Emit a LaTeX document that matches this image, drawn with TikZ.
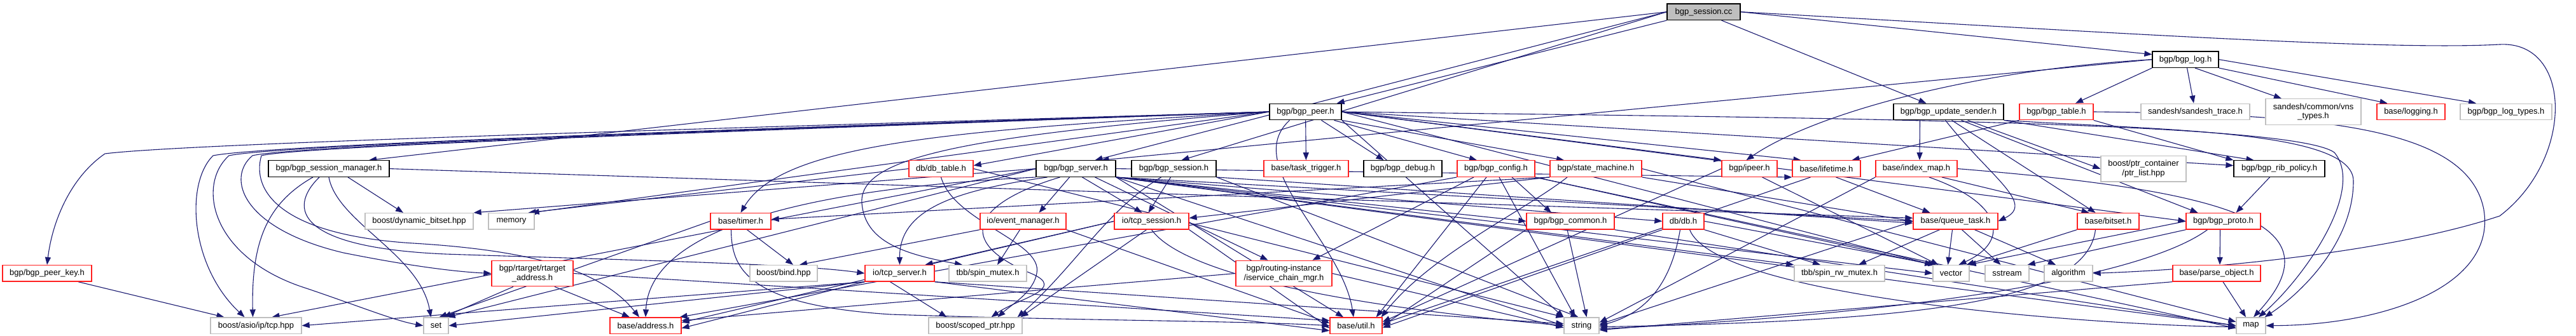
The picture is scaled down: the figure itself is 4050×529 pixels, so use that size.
\documentclass[tikz,border=0pt]{standalone}
\usepackage{fontspec}
\setmainfont{Liberation Sans}
\usetikzlibrary{arrows.meta}
\definecolor{eb}{HTML}{191970}
\definecolor{gr}{HTML}{BFBFBF}
\definecolor{rd}{HTML}{FF2020}
\pgfdeclarelayer{bg}
\pgfsetlayers{bg,main}
\tikzset{
  nb/.style={rectangle, inner sep=0pt, font=\fontsize{13}{14.6}\selectfont, align=center, line width=1.3pt, minimum height=25.5pt, fill=white},
  rn/.style={nb, draw=rd},
  gn/.style={nb, draw=gr},
  kn/.style={nb, draw=black},
  two/.style={minimum height=40.5pt},
  e/.style={draw=eb, line width=1.1pt, -{Triangle[length=12pt,width=9pt]}},
}
\begin{document}
\begin{tikzpicture}[x=1pt,y=-1pt]
\useasboundingbox (0,0) rectangle (4050,529);
% row A
\node[kn, fill=gr, minimum width=115pt] (root) at (2678.5,18.7) {bgp\_session.cc};
% row B
\node[kn, minimum width=104pt] (log) at (3436,93.7) {bgp/bgp\_log.h};
% row C
\node[kn, minimum width=113pt] (peer) at (2052.5,176) {bgp/bgp\_peer.h};
\node[kn, minimum width=173pt] (upd) at (3063.5,176) {bgp/bgp\_update\_sender.h};
\node[rn, minimum width=116pt] (table) at (3233,176) {bgp/bgp\_table.h};
\node[gn, minimum width=171pt] (strace) at (3451.5,176) {sandesh/sandesh\_trace.h};
\node[gn, two, minimum width=150pt] (vns) at (3637,176) {sandesh/common/vns\\\_types.h};
\node[rn, minimum width=107pt] (logging) at (3790.5,176) {base/logging.h};
\node[gn, minimum width=144pt] (logtypes) at (3940,176) {bgp/bgp\_log\_types.h};
% row D
\node[kn, minimum width=190pt] (sman) at (517,265.6) {bgp/bgp\_session\_manager.h};
\node[rn, minimum width=101pt] (dbtable) at (1479.5,265.6) {db/db\_table.h};
\node[kn, minimum width=125pt] (server) at (1691.5,265.6) {bgp/bgp\_server.h};
\node[kn, minimum width=133pt] (session) at (1845.5,265.6) {bgp/bgp\_session.h};
\node[rn, minimum width=133pt] (trigger) at (2053.5,265.6) {base/task\_trigger.h};
\node[kn, minimum width=123pt] (debug) at (2205.5,265.6) {bgp/bgp\_debug.h};
\node[rn, minimum width=122pt] (config) at (2352,265.6) {bgp/bgp\_config.h};
\node[rn, minimum width=144pt] (sm) at (2509,265.6) {bgp/state\_machine.h};
\node[rn, minimum width=87pt] (ipeer) at (2750.5,265.6) {bgp/ipeer.h};
\node[rn, minimum width=107pt] (lifetime) at (2871.5,265.6) {base/lifetime.h};
\node[rn, minimum width=128pt] (imap) at (3013,265.6) {base/index\_map.h};
\node[gn, two, minimum width=134pt] (ptrlist) at (3370,265.8) {boost/ptr\_container\\/ptr\_list.hpp};
\node[kn, minimum width=143pt] (rib) at (3583.5,265.6) {bgp/bgp\_rib\_policy.h};
% row E
\node[gn, minimum width=170pt] (dynbit) at (659,348.3) {boost/dynamic\_bitset.hpp};
\node[gn, minimum width=72pt] (memory) at (804,348.3) {memory};
\node[rn, minimum width=95pt] (timer) at (1164.5,348.3) {base/timer.h};
\node[rn, minimum width=135pt] (evm) at (1608.5,348.3) {io/event\_manager.h};
\node[rn, minimum width=117pt] (tcpsess) at (1810.5,348.3) {io/tcp\_session.h};
\node[rn, minimum width=138pt] (common) at (2469,348.3) {bgp/bgp\_common.h};
\node[rn, minimum width=65pt] (db) at (2646.5,348.3) {db/db.h};
\node[rn, minimum width=133pt] (qtask) at (3074.5,348.3) {base/queue\_task.h};
\node[rn, minimum width=97pt] (bitset) at (3314.5,348.3) {base/bitset.h};
\node[rn, minimum width=117pt] (proto) at (3495.5,348.3) {bgp/bgp\_proto.h};
% row F
\node[rn, minimum width=140pt] (peerkey) at (74,430.3) {bgp/bgp\_peer\_key.h};
\node[rn, two, minimum width=128pt] (rtaddr) at (837,430.5) {bgp/rtarget/rtarget\\\_address.h};
\node[gn, minimum width=106pt] (bind) at (1232,430.3) {boost/bind.hpp};
\node[rn, minimum width=109pt] (tcpsrv) at (1414.5,430.3) {io/tcp\_server.h};
\node[gn, minimum width=122pt] (spinmutex) at (1553,430.3) {tbb/spin\_mutex.h};
\node[rn, two, minimum width=151pt] (iscm) at (2018.5,430.5) {bgp/routing-instance\\/iservice\_chain\_mgr.h};
\node[gn, minimum width=142pt] (spinrw) at (2892,430.3) {tbb/spin\_rw\_mutex.h};
\node[gn, minimum width=57pt] (vector) at (3067.5,430.3) {vector};
\node[gn, minimum width=69pt] (sstream) at (3155.5,430.3) {sstream};
\node[gn, minimum width=76pt] (algorithm) at (3252,430.3) {algorithm};
\node[rn, minimum width=138pt] (parse) at (3485,430.3) {base/parse\_object.h};
% row G
\node[gn, minimum width=143pt] (tcphpp) at (402.5,512.7) {boost/asio/ip/tcp.hpp};
\node[gn, minimum width=39pt] (set) at (685.5,512.7) {set};
\node[rn, minimum width=112pt] (address) at (1015,512.7) {base/address.h};
\node[gn, minimum width=147pt] (scoped) at (1533.5,512.7) {boost/scoped\_ptr.hpp};
\node[rn, minimum width=82pt] (util) at (2132,512.7) {base/util.h};
\node[gn, minimum width=55pt] (string) at (2486.5,512.7) {string};
\node[gn, minimum width=46pt] (map) at (3539,512.7) {map};

\begin{pgfonlayer}{bg}
% root
\draw[e] (root.west) -- ([xshift=63pt]sman.north);
\draw[e] (root.west) -- ([xshift=30pt]server.north);
\draw[e] (root.west) -- ([xshift=12pt]session.north);
\draw[e] (root.south west) -- ([xshift=-8pt]peer.north east);
\draw[e] ([xshift=28pt]root.south) -- ([xshift=-35pt]upd.north);
\draw[e] (root.east) -- ([yshift=8pt]log.west);
\draw[e] (root.east) .. controls (3300,50) and (3750,80) .. (3930,70) .. controls (4045,64) and (4048,250) .. (3930,340) .. controls (3750,400) and (3450,425) .. (algorithm.east);
% log
\draw[e] (log.south west) -- ([xshift=30pt]table.north);
\draw[e] (log) -- (strace);
\draw[e] ([xshift=15pt]log.south) -- ([xshift=-50pt]vns.north);
\draw[e] (log.south east) -- ([xshift=-37pt]logging.north);
\draw[e] (log.east) -- ([xshift=-47pt]logtypes.north);
\draw[e] (log.west) -- ([xshift=40pt]server.north);
\draw[e] (log.west) .. controls (3100,110) and (2850,180) .. ([xshift=-5pt]ipeer.north);
% peer loops
\draw[e] (peer.west) .. controls (1200,200) and (300,225) .. (165,242) .. controls (110,280) and (82,350) .. (peerkey.north);
\draw[e] (peer.west) .. controls (1200,202) and (420,228) .. (335,245) .. controls (290,290) and (300,420) .. ([xshift=-18pt]tcphpp.north);
\draw[e] (peer.west) .. controls (1200,203) and (440,228) .. (360,245) .. controls (310,290) and (330,400) .. (470,450) .. controls (560,480) and (620,505) .. (set.west);
\draw[e] (peer.west) .. controls (1200,204) and (460,229) .. (397,245) .. controls (355,280) and (380,360) .. (540,398) .. controls (650,420) and (720,428) .. (rtaddr.west);
\draw[e] (peer.west) .. controls (1200,205) and (470,230) .. (411,245) .. controls (395,300) and (440,370) .. (650,383) .. controls (850,395) and (950,430) .. ([xshift=-10pt]address.north);
\draw[e] (peer.west) -- ([yshift=5pt]dbtable.east);
\draw[e] (peer.west) .. controls (1500,205) and (1230,225) .. (timer.north);
\draw[e] (peer.west) -- ([xshift=-5pt]memory.north east);
\draw[e] (peer.west) .. controls (1500,215) and (1350,250) .. (1355,320) .. controls (1360,380) and (1420,400) .. ([xshift=-40pt]spinmutex.north);
\draw[e] (peer) -- (trigger);
\draw[e] ([xshift=25pt]peer.south) -- ([xshift=-30pt]debug.north);
\draw[e] ([xshift=45pt]peer.south) -- ([xshift=-30pt]config.north);
\draw[e] (peer.south east) -- ([xshift=-50pt]sm.north);
\draw[e] ([xshift=-25pt]peer.south) .. controls (1950,260) and (2110,380) .. ([xshift=-4pt]util.north);
\draw[e] (peer.south east) -- (string.north west);
\draw[e] (peer.east) -- (ipeer.north west);
\draw[e] (peer.east) -- ([xshift=-40pt]lifetime.north);
\draw[e] (peer.east) -- ([yshift=5pt]rib.west);
\draw[e] (peer.east) -- (proto.west);
\draw[e] (peer.east) -- (vector.north west);
\draw[e] (peer.east) .. controls (2800,185) and (3600,190) .. (3670,240) .. controls (3720,300) and (3620,440) .. ([xshift=12pt]map.north);
% upd
\draw[e] ([xshift=-45pt]upd.south) -- ([xshift=5pt]imap.north);
\draw[e] ([xshift=5pt]upd.south) -- ([xshift=-20pt]bitset.north);
\draw[e] ([xshift=30pt]upd.south) -- (ptrlist.west);
\draw[e] (upd.south east) -- ([xshift=-40pt]rib.north);
\draw[e] ([xshift=20pt]upd.south) -- ([xshift=-40pt]proto.north);
\draw[e] ([xshift=-5pt]upd.south) .. controls (3130,280) and (3200,320) .. (qtask.east);
\draw[e] (upd.south east) .. controls (3400,205) and (3700,205) .. (3700,285) .. controls (3700,380) and (3620,460) .. ([xshift=-2pt]map.north east);
% table
\draw[e] (table.south west) -- ([xshift=40pt]lifetime.north);
\draw[e] (table.south east) -- (rib.north west);
\draw[e] (table.east) .. controls (3650,180) and (3880,200) .. (3905,330) .. controls (3925,450) and (3750,512) .. (map.east);
% sman
\draw[e] ([xshift=-25pt]sman.south) .. controls (420,320) and (395,380) .. ([xshift=-5pt]tcphpp.north);
\draw[e] ([xshift=-15pt]sman.south) .. controls (450,330) and (470,390) .. (700,400) .. controls (1000,410) and (1250,415) .. (tcpsrv.west);
\draw[e] (sman.south) .. controls (530,350) and (660,400) .. ([xshift=-8pt]set.north);
\draw[e] ([xshift=30pt]sman.south) -- ([xshift=-25pt]dynbit.north);
\draw[e] (sman.east) -- ([yshift=5pt]qtask.west);
% dbtable
\draw[e] (dbtable.west) -- ([xshift=-10pt]memory.north east);
\draw[e] (dbtable.south) .. controls (1500,350) and (1640,380) .. (1630,430) .. controls (1625,460) and (1590,480) .. ([xshift=35pt]scoped.north);
\draw[e] (dbtable.east) -- (string.north west);
% server
\draw[e] (server.west) -- (dynbit.north east);
\draw[e] (server.west) -- ([xshift=-2pt]set.north east);
\draw[e] (server.west) -- ([xshift=25pt]tcphpp.north);
\draw[e] (server.south west) .. controls (1200,300) and (1020,380) .. (address.north);
\draw[e] ([xshift=-25pt]server.south) .. controls (1530,320) and (1500,380) .. (1620,430) .. controls (1680,455) and (1600,470) .. ([xshift=25pt]scoped.north);
\draw[e] ([xshift=-10pt]server.south) -- ([xshift=25pt]evm.north);
\draw[e] ([xshift=-45pt]server.south) .. controls (1500,300) and (1414,330) .. (tcpsrv.north);
\draw[e] ([xshift=10pt]server.south) -- ([xshift=-15pt]tcpsess.north);
\draw[e] ([xshift=30pt]server.south) -- ([xshift=-25pt]iscm.north);
\draw[e] (server.south east) -- (spinrw.north west);
\draw[e] (server.south east) -- ([xshift=-20pt]util.north);
\draw[e] (server.south east) -- (string.west);
\draw[e] (server.south east) -- (map.west);
\draw[e] (server.south east) -- (vector.west);
\draw[e] (server.south east) -- (qtask.west);
\draw[e] (server.east) -- (lifetime.south west);
\draw[e] (server.south east) -- (common.west);
\draw[e] (server.south east) -- (db.west);
% session
\draw[e] ([xshift=-20pt]session.south) .. controls (1740,330) and (1690,420) .. ([xshift=-8pt]scoped.north east);
\draw[e] ([xshift=-5pt]session.south) -- ([xshift=-5pt]tcpsess.north);
\draw[e] (session.south east) -- ([yshift=-3pt]qtask.west);
\draw[e] (session.south east) -- ([xshift=-5pt]string.north);
% timer
\draw[e] ([xshift=10pt]timer.south) -- ([xshift=15pt]bind.north);
\draw[e] ([xshift=-15pt]timer.south) .. controls (1150,420) and (1170,480) .. (1400,495) .. controls (1700,505) and (1950,505) .. (util.west);
\draw[e] (timer.west) -- ([xshift=5pt]set.north);
% evm
\draw[e] ([xshift=-5pt]evm.south) -- ([xshift=15pt]spinmutex.north);
\draw[e] (evm.south west) -- ([xshift=25pt]bind.north);
\draw[e] (evm.south east) -- ([yshift=4pt]util.west);
% tcpsess
\draw[e] (tcpsess.west) -- ([xshift=40pt]tcpsrv.north);
\draw[e] ([xshift=-8pt]tcpsess.south) -- ([xshift=-3pt]scoped.north east);
\draw[e] (tcpsess.south) .. controls (1860,430) and (2100,480) .. (string.west);
\draw[e] (tcpsess.west) -- ([yshift=5pt]address.east);
\draw[e] (tcpsess.south east) -- ([yshift=-4pt]util.west);
% tcpsrv
\draw[e] (tcpsrv.south west) -- (tcphpp.east);
\draw[e] (tcpsrv.south west) -- (set.east);
\draw[e] (tcpsrv.south west) -- ([yshift=-4pt]address.east);
\draw[e] ([xshift=-15pt]tcpsrv.south) -- ([xshift=-45pt]scoped.north);
\draw[e] (tcpsrv.south east) -- ([yshift=-8pt]util.west);
\draw[e] (tcpsrv.south east) -- ([yshift=3pt]string.west);
% rtaddr
\draw[e] ([xshift=-30pt]rtaddr.south) -- ([xshift=12pt]set.north);
\draw[e] ([xshift=35pt]rtaddr.south) -- ([xshift=-25pt]address.north);
\draw[e] (rtaddr.east) -- ([yshift=8pt]util.west);
% iscm
\draw[e] (iscm.west) -- ([yshift=8pt]address.east);
\draw[e] (iscm.east) -- ([yshift=-3pt]string.west);
% config
\draw[e] ([xshift=-35pt]config.south) -- ([xshift=45pt]iscm.north);
\draw[e] ([xshift=-15pt]config.south) -- ([xshift=-10pt]util.north east);
\draw[e] ([xshift=5pt]config.south) -- ([xshift=-10pt]string.north);
\draw[e] ([xshift=25pt]config.south) -- ([xshift=-30pt]common.north);
\draw[e] (config.south west) -- ([xshift=-3pt]address.north east);
\draw[e] (config.south east) -- ([yshift=-4pt]map.west);
\draw[e] (config.south east) -- (vector.north west);
% common
\draw[e] ([xshift=-5pt]common.south) -- ([xshift=8pt]string.north);
\draw[e] (common.south west) -- (util.east);
\draw[e] (common.south east) -- (map.west);
% sm
\draw[e] (sm.south west) -- ([yshift=3pt]timer.east);
\draw[e] (sm.south west) -- ([yshift=5pt]tcpsess.east);
\draw[e] ([xshift=-45pt]sm.south) .. controls (2400,330) and (2250,400) .. ([xshift=-2pt]util.north east);
\draw[e] (sm.south east) -- (qtask.west);
\draw[e] (sm.east) -- ([yshift=6pt]map.west);
% ipeer
\draw[e] (ipeer.west) -- ([yshift=6pt]util.east);
\draw[e] ([xshift=20pt]ipeer.south) -- ([xshift=-20pt]vector.north);
% lifetime
\draw[e] ([xshift=15pt]lifetime.south) -- ([xshift=-40pt]qtask.north);
\draw[e] ([xshift=-25pt]lifetime.south) -- ([yshift=3pt]util.east);
% imap
\draw[e] ([xshift=20pt]imap.south) .. controls (3150,320) and (3160,380) .. ([xshift=12pt]vector.north);
\draw[e] ([xshift=40pt]imap.south) -- ([xshift=-30pt]bitset.north);
\draw[e] (imap.east) .. controls (3500,300) and (3680,350) .. ([xshift=4pt]map.north);
\draw[e] (imap.south west) -- ([yshift=5pt]string.east);
% qtask
\draw[e] ([xshift=-25pt]qtask.south) -- ([xshift=30pt]spinrw.north);
\draw[e] ([xshift=-5pt]qtask.south) -- ([xshift=-5pt]vector.north);
\draw[e] ([xshift=10pt]qtask.south) -- ([xshift=-10pt]sstream.north);
\draw[e] ([xshift=30pt]qtask.south) -- ([xshift=-20pt]algorithm.north);
\draw[e] (qtask.west) -- ([yshift=2pt]string.east);
% db
\draw[e] ([xshift=-5pt]db.south) .. controls (2630,430) and (2600,490) .. (string.east);
\draw[e] (db.south west) -- ([yshift=-3pt]util.east);
\draw[e] (db.south east) -- ([xshift=-30pt]spinrw.north);
\draw[e] ([xshift=10pt]db.south) .. controls (2700,470) and (3300,512) .. ([yshift=-2pt]map.west);
\draw[e] (db.east) -- ([xshift=5pt]vector.north west);
% bitset
\draw[e] (bitset.south west) -- ([xshift=-5pt]vector.north east);
\draw[e] ([xshift=-20pt]bitset.south) .. controls (3280,480) and (3000,505) .. ([yshift=-2pt]string.east);
% proto
\draw[e] ([xshift=-5pt]proto.south) -- ([xshift=5pt]parse.north);
\draw[e] (proto.south west) -- ([xshift=-3pt]sstream.north east);
\draw[e] (proto.west) -- ([xshift=-2pt]vector.north east);
\draw[e] ([xshift=-25pt]proto.south) .. controls (3350,450) and (2900,500) .. ([yshift=-5pt]string.east);
% parse
\draw[e] ([xshift=10pt]parse.south) -- ([xshift=-8pt]map.north);
\draw[e] (parse.south west) -- ([yshift=-7pt]string.east);
% rib
\draw[e] ([xshift=-15pt]rib.south) -- ([xshift=20pt]proto.north);
% peerkey
\draw[e] ([xshift=49pt]peerkey.south) -- ([xshift=-50pt]tcphpp.north);
\end{pgfonlayer}
\end{tikzpicture}
\end{document}
